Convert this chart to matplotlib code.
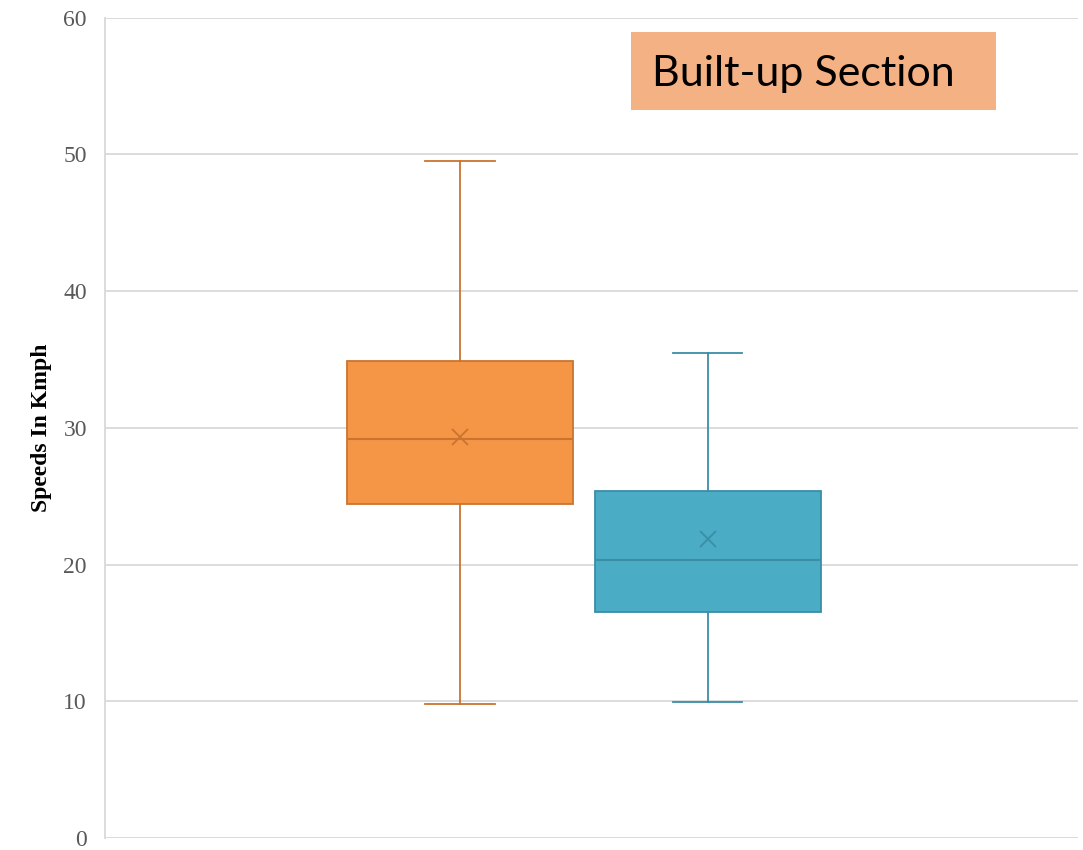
import matplotlib.pyplot as plt
from matplotlib.patches import Rectangle

# box statistics (speeds in km/h)
groups = ["Series A", "Series B"]
whisker_low = [9.8, 9.95]
q1 = [24.4, 16.5]
median = [29.2, 20.3]
q3 = [34.9, 25.4]
whisker_high = [49.5, 35.5]
mean = [29.3, 21.9]

fill_colors = ["#F59646", "#4BACC6"]
edge_colors = ["#C9742F", "#3A8EA6"]

y_ticks = [0, 10, 20, 30, 40, 50, 60]

fig = plt.figure(figsize=(10.83, 8.5), dpi=100)
ax = fig.add_axes([0.097, 0.0141, 0.898, 0.965])

stats = []
for i, g in enumerate(groups):
    stats.append({
        "label": g, "whislo": whisker_low[i], "q1": q1[i], "med": median[i],
        "q3": q3[i], "whishi": whisker_high[i], "mean": mean[i], "fliers": [],
    })

positions = [1, 2]
for i, s in enumerate(stats):
    ec = edge_colors[i]
    ax.bxp([s], positions=[positions[i]], widths=0.91, capwidths=0.28,
           patch_artist=True, showmeans=True, zorder=3,
           boxprops=dict(facecolor=fill_colors[i], edgecolor=ec, linewidth=1.3),
           medianprops=dict(color=ec, linewidth=1.5),
           whiskerprops=dict(color=ec, linewidth=1.3),
           capprops=dict(color=ec, linewidth=1.3),
           meanprops=dict(marker="x", markeredgecolor=ec, markersize=12,
                          markeredgewidth=1.3))

ax.set_xlim(-0.431, 3.492)
ax.set_ylim(0, 60)
ax.set_yticks(y_ticks)
ax.set_xticks([])
ax.yaxis.grid(True, color="#D9D9D9", linewidth=1.3, zorder=0)
ax.set_axisbelow(True)
for side in ["top", "right", "bottom"]:
    ax.spines[side].set_visible(False)
ax.spines["left"].set_color("#D9D9D9")
ax.spines["left"].set_linewidth(1.3)
ax.tick_params(axis="y", length=0, pad=13, labelsize=17, labelcolor="#595959")
for lbl in ax.get_yticklabels():
    lbl.set_family("Liberation Serif")

ax.set_ylabel("Speeds In Kmph", fontsize=17, fontweight="bold",
              family="Liberation Serif", labelpad=8)

# title box
fig.add_artist(Rectangle((0.5826, 0.8706), 0.337, 0.0918, transform=fig.transFigure,
                         facecolor="#F4B183", edgecolor="none"))
fig.text(0.602, 0.913, "Built-up Section", fontsize=31, family="Lato",
         va="center", ha="left")

fig.savefig("out.png", dpi=100)
